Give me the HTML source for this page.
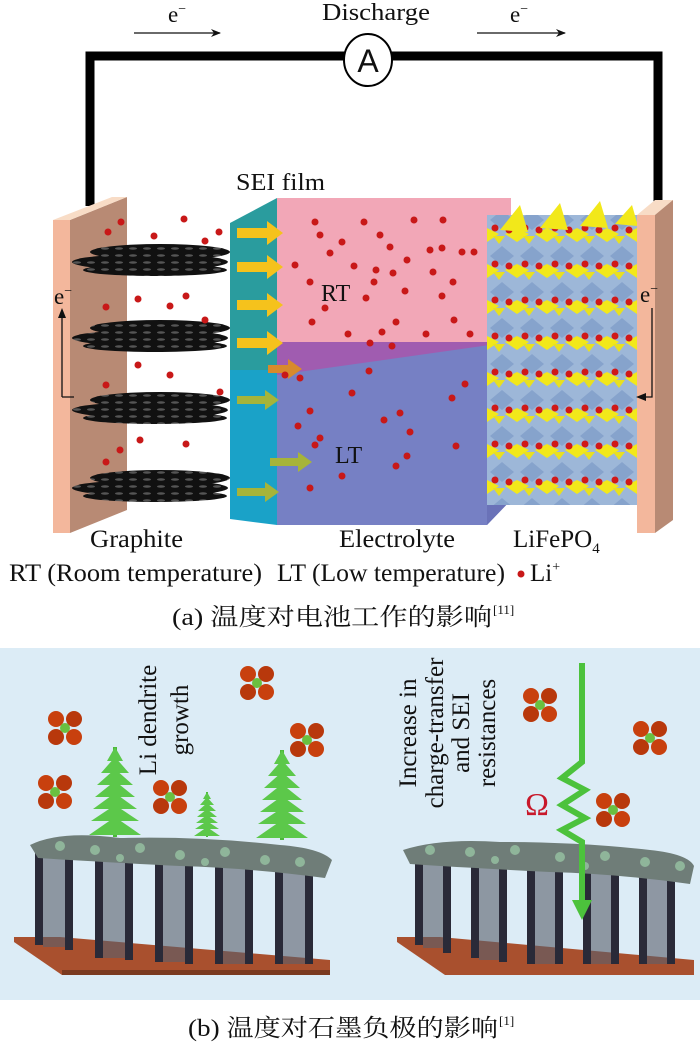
<!DOCTYPE html>
<html><head><meta charset="utf-8"><style>
html,body{margin:0;padding:0;background:#fff;}
svg{display:block;}
text{font-family:"Liberation Serif","Noto Serif CJK SC","Noto Sans CJK SC",serif;fill:#111;}
</style></head><body>
<svg width="700" height="1047" viewBox="0 0 700 1047" xmlns="http://www.w3.org/2000/svg">
<defs>
<marker id="ah" markerWidth="10" markerHeight="8" refX="9" refY="4" orient="auto" markerUnits="userSpaceOnUse"><path d="M0,0 L10,4 L0,8 L3,4 z" fill="#111"/></marker>
<g id="mol">
<circle cx="-9" cy="-9" r="8" fill="#c8400e"/><circle cx="9" cy="-9" r="8" fill="#b8380c"/>
<circle cx="-9" cy="9" r="8" fill="#b8380c"/><circle cx="9" cy="9" r="8" fill="#c8400e"/>
<circle cx="0" cy="0" r="5" fill="#6ac040"/>
</g>
<g id="fern">
<rect x="-2" y="0" width="4" height="90" fill="#4cb83a"/>
<path d="M0,0 L-8,14 L8,14 Z M0,10 L-14,26 L14,26 Z M0,22 L-18,38 L18,38 Z M0,34 L-20,50 L20,50 Z M0,46 L-22,62 L22,62 Z M0,58 L-24,74 L24,74 Z M0,70 L-26,88 L26,88 Z" fill="#5cc84a"/>
</g>
<pattern id="lat" x="487" y="208" width="30" height="36" patternUnits="userSpaceOnUse">
<rect width="30" height="36" fill="#9db7d8"/>
<path d="M15,2 L27,12 L15,22 L3,12 Z" fill="#86a3cc"/>
<path d="M0,20 L12,26 L0,34 Z M30,20 L18,26 L30,34 Z" fill="#f2e81a"/>
<path d="M6,28 L18,28 L12,36 Z" fill="#e8e020"/>
<circle cx="8" cy="20" r="3.5" fill="#d01818"/><circle cx="22" cy="22" r="3.5" fill="#d01818"/>
</pattern>
<pattern id="gr" x="0" y="0" width="14" height="7" patternUnits="userSpaceOnUse">
<rect width="14" height="7" fill="#111"/><ellipse cx="7" cy="3.5" rx="4" ry="1.2" fill="#555"/>
</pattern>
</defs>

<!-- top circuit -->
<text x="322" y="20" font-size="24" textLength="108" lengthAdjust="spacingAndGlyphs">Discharge</text>
<text x="168" y="22" font-size="23">e<tspan font-size="14" dy="-9">−</tspan></text>
<line x1="134" y1="33" x2="220" y2="33" stroke="#111" stroke-width="1.3" marker-end="url(#ah)"/>
<text x="510" y="22" font-size="23">e<tspan font-size="14" dy="-9">−</tspan></text>
<line x1="477" y1="33" x2="565" y2="33" stroke="#111" stroke-width="1.3" marker-end="url(#ah)"/>
<path d="M90,206 L90,56 L658,56 L658,215" fill="none" stroke="#000" stroke-width="9"/>
<ellipse cx="368" cy="60" rx="24" ry="26" fill="#fff" stroke="#000" stroke-width="2"/>
<text x="368" y="72" font-size="32" text-anchor="middle" style="font-family:'Liberation Sans',sans-serif">A</text>

<!-- left plate -->
<polygon points="70,220 127,197 127,510 70,533" fill="#b88a74"/>
<polygon points="53,220 70,220 70,533 53,533" fill="#f3b79c"/>
<polygon points="53,220 70,220 127,197 112,197" fill="#f8dcc6"/>
<text x="54" y="304" font-size="23">e<tspan font-size="14" dy="-9">−</tspan></text>
<path d="M62,397 L62,312 M62,397 L74,397" fill="none" stroke="#111" stroke-width="1.3"/>
<path d="M58,318 L62,308 L66,318 Z" fill="#111"/>

<!-- graphite -->
<g fill="url(#gr)">
<ellipse cx="160" cy="252" rx="70" ry="8"/><ellipse cx="150" cy="262" rx="78" ry="8"/><ellipse cx="155" cy="270" rx="72" ry="6"/>
<ellipse cx="160" cy="328" rx="70" ry="8"/><ellipse cx="150" cy="338" rx="78" ry="8"/><ellipse cx="155" cy="346" rx="72" ry="6"/>
<ellipse cx="160" cy="400" rx="70" ry="8"/><ellipse cx="150" cy="410" rx="78" ry="8"/><ellipse cx="155" cy="418" rx="72" ry="6"/>
<ellipse cx="160" cy="478" rx="70" ry="8"/><ellipse cx="150" cy="488" rx="78" ry="8"/><ellipse cx="155" cy="496" rx="72" ry="6"/>
</g>

<!-- electrolyte box -->
<polygon points="277,198 511,198 511,342 277,342" fill="#f2a7b7"/>
<polygon points="277,342 511,342 487,375 277,375" fill="#a05cb0"/>
<polygon points="277,375 511,342 511,500 487,525 277,525" fill="#7680c4"/>
<polygon points="487,375 511,342 511,500 487,525" fill="#6a72b8"/>
<!-- SEI -->
<polygon points="230,223 277,198 277,370 230,370" fill="#2a9c9e"/>
<polygon points="230,370 277,370 277,525 230,519" fill="#1aa2c8"/>
<g fill="#f5c21c">
<path d="M237,228 h30 v-7 l16,12 l-16,12 v-7 h-30 z"/><path d="M237,262 h30 v-7 l16,12 l-16,12 v-7 h-30 z"/>
<path d="M237,300 h30 v-7 l16,12 l-16,12 v-7 h-30 z"/><path d="M237,338 h30 v-7 l16,12 l-16,12 v-7 h-30 z"/>
</g>
<path d="M268,365 h20 v-6 l14,10 l-14,10 v-6 h-20 z" fill="#d88a2c"/>
<g fill="#a6b43a">
<path d="M237,396 h28 v-6 l14,10 l-14,10 v-6 h-28 z"/><path d="M270,458 h28 v-6 l14,10 l-14,10 v-6 h-28 z"/><path d="M237,488 h28 v-6 l14,10 l-14,10 v-6 h-28 z"/>
</g>
<text x="236" y="190" font-size="24" textLength="89" lengthAdjust="spacingAndGlyphs">SEI film</text>
<text x="321" y="301" font-size="24">RT</text>
<text x="335" y="463" font-size="24">LT</text>

<!-- Li+ dots -->
<g fill="#c81818">
<circle cx="108" cy="232" r="3.5"/><circle cx="121" cy="222" r="3.5"/><circle cx="184" cy="219" r="3.5"/><circle cx="154" cy="236" r="3.5"/><circle cx="205" cy="241" r="3.5"/><circle cx="219" cy="232" r="3.5"/>
<circle cx="138" cy="299" r="3.5"/><circle cx="186" cy="296" r="3.5"/><circle cx="170" cy="306" r="3.5"/><circle cx="106" cy="307" r="3.5"/><circle cx="205" cy="320" r="3.5"/><circle cx="138" cy="365" r="3.5"/><circle cx="170" cy="375" r="3.5"/><circle cx="106" cy="385" r="3.5"/><circle cx="220" cy="392" r="3.5"/><circle cx="140" cy="440" r="3.5"/><circle cx="186" cy="444" r="3.5"/><circle cx="106" cy="462" r="3.5"/><circle cx="120" cy="450" r="3.5"/>
<circle cx="315" cy="222" r="3.5"/><circle cx="364" cy="222" r="3.5"/><circle cx="414" cy="220" r="3.5"/><circle cx="443" cy="220" r="3.5"/><circle cx="320" cy="235" r="3.5"/><circle cx="380" cy="235" r="3.5"/><circle cx="342" cy="242" r="3.5"/><circle cx="390" cy="247" r="3.5"/><circle cx="430" cy="250" r="3.5"/><circle cx="442" cy="248" r="3.5"/><circle cx="462" cy="252" r="3.5"/><circle cx="474" cy="252" r="3.5"/><circle cx="330" cy="253" r="3.5"/><circle cx="407" cy="260" r="3.5"/><circle cx="295" cy="265" r="3.5"/><circle cx="354" cy="266" r="3.5"/><circle cx="393" cy="273" r="3.5"/><circle cx="376" cy="270" r="3.5"/><circle cx="433" cy="272" r="3.5"/><circle cx="374" cy="282" r="3.5"/><circle cx="453" cy="282" r="3.5"/><circle cx="310" cy="282" r="3.5"/><circle cx="325" cy="308" r="3.5"/><circle cx="366" cy="298" r="3.5"/><circle cx="405" cy="291" r="3.5"/><circle cx="442" cy="296" r="3.5"/><circle cx="454" cy="320" r="3.5"/><circle cx="396" cy="322" r="3.5"/><circle cx="382" cy="332" r="3.5"/><circle cx="426" cy="334" r="3.5"/><circle cx="470" cy="334" r="3.5"/><circle cx="312" cy="322" r="3.5"/><circle cx="348" cy="334" r="3.5"/><circle cx="370" cy="343" r="3.5"/><circle cx="392" cy="346" r="3.5"/>
<circle cx="369" cy="371" r="3.5"/><circle cx="300" cy="378" r="3.5"/><circle cx="285" cy="375" r="3.5"/><circle cx="465" cy="384" r="3.5"/><circle cx="352" cy="393" r="3.5"/><circle cx="452" cy="398" r="3.5"/><circle cx="310" cy="411" r="3.5"/><circle cx="400" cy="413" r="3.5"/><circle cx="384" cy="420" r="3.5"/><circle cx="298" cy="426" r="3.5"/><circle cx="320" cy="438" r="3.5"/><circle cx="315" cy="445" r="3.5"/><circle cx="410" cy="432" r="3.5"/><circle cx="456" cy="446" r="3.5"/><circle cx="407" cy="456" r="3.5"/><circle cx="396" cy="466" r="3.5"/><circle cx="342" cy="476" r="3.5"/><circle cx="310" cy="488" r="3.5"/>
</g>

<!-- LiFePO4 lattice -->
<rect x="487" y="215" width="150" height="290" fill="url(#lat)"/>
<g fill="#f2e81a">
<path d="M500,230 L520,205 L528,232 Z"/><path d="M540,228 L560,203 L568,230 Z"/><path d="M580,226 L600,201 L608,228 Z"/><path d="M615,224 L632,205 L638,226 Z"/>
</g>
<!-- right plate -->
<polygon points="655,210 673,200 673,520 655,533" fill="#b88a74"/>
<polygon points="637,215 655,215 655,533 637,533" fill="#f3b79c"/>
<polygon points="637,215 655,215 673,200 655,200" fill="#f8dcc6"/>
<text x="640" y="302" font-size="23">e<tspan font-size="14" dy="-9">−</tspan></text>
<path d="M652,308 L652,397 L640,397" fill="none" stroke="#111" stroke-width="1.3"/>
<path d="M646,393 L636,397 L646,401 Z" fill="#111"/>

<!-- labels a -->
<text x="90" y="547" font-size="25" textLength="93" lengthAdjust="spacingAndGlyphs">Graphite</text>
<text x="339" y="547" font-size="25" textLength="116" lengthAdjust="spacingAndGlyphs">Electrolyte</text>
<text x="513" y="547" font-size="25">LiFePO<tspan font-size="15" dy="6">4</tspan></text>
<text x="9" y="581" font-size="25" textLength="253" lengthAdjust="spacingAndGlyphs">RT (Room temperature)</text>
<text x="277" y="581" font-size="25" textLength="228" lengthAdjust="spacingAndGlyphs">LT (Low temperature)</text>
<circle cx="521" cy="574" r="3.5" fill="#c81818"/>
<text x="530" y="581" font-size="25">Li<tspan font-size="14" dy="-10">+</tspan></text>
<text x="172" y="625" font-size="24" textLength="320" lengthAdjust="spacingAndGlyphs">(a) 温度对电池工作的影响</text>
<text x="493" y="614" font-size="13">[11]</text>

<!-- part b -->
<rect x="0" y="648" width="700" height="352" fill="#dcecf6"/>
<!-- left block -->
<polygon points="14,937 60,937 330,960 330,975 62,975 14,942" fill="#a9502e"/>
<polygon points="62,970 330,970 330,975 62,975" fill="#7a3a20"/>
<g fill="#2a2a38">
<rect x="35" y="850" width="8" height="95"/><rect x="65" y="855" width="8" height="95"/><rect x="95" y="858" width="8" height="100"/><rect x="125" y="860" width="8" height="100"/><rect x="155" y="862" width="8" height="100"/><rect x="185" y="864" width="8" height="100"/><rect x="215" y="866" width="8" height="98"/><rect x="245" y="866" width="8" height="98"/><rect x="275" y="868" width="8" height="96"/><rect x="305" y="870" width="8" height="94"/>
</g>
<g fill="#5a5f6c" opacity="0.6"><rect x="43" y="852" width="22" height="95"/><rect x="103" y="858" width="22" height="100"/><rect x="163" y="862" width="22" height="100"/><rect x="223" y="866" width="22" height="98"/><rect x="283" y="868" width="22" height="96"/></g>
<use href="#fern" x="115" y="747"/>
<use href="#fern" x="207" y="792" transform="translate(207,792) scale(0.5) translate(-207,-792)"/>
<use href="#fern" x="282" y="750"/>
<path d="M30,845 Q60,830 120,838 Q200,836 280,845 Q320,848 332,860 L325,878 Q250,868 180,866 Q100,862 38,858 Z" fill="#6f7d78"/>
<g fill="#8fb59a"><circle cx="60" cy="846" r="5"/><circle cx="95" cy="850" r="5"/><circle cx="140" cy="848" r="5"/><circle cx="180" cy="855" r="5"/><circle cx="225" cy="852" r="5"/><circle cx="265" cy="860" r="5"/><circle cx="300" cy="862" r="5"/><circle cx="120" cy="858" r="4"/><circle cx="205" cy="862" r="4"/></g>
<!-- right block -->
<polygon points="397,937 440,937 694,960 694,975 445,975 397,942" fill="#a9502e"/>
<g fill="#2a2a38">
<rect x="415" y="855" width="8" height="90"/><rect x="443" y="858" width="8" height="95"/><rect x="471" y="860" width="8" height="98"/><rect x="499" y="862" width="8" height="100"/><rect x="527" y="864" width="8" height="100"/><rect x="555" y="866" width="8" height="98"/><rect x="583" y="866" width="8" height="98"/><rect x="611" y="868" width="8" height="96"/><rect x="639" y="868" width="8" height="96"/><rect x="667" y="870" width="8" height="94"/>
</g>
<g fill="#5a5f6c" opacity="0.6"><rect x="423" y="856" width="20" height="92"/><rect x="479" y="860" width="20" height="100"/><rect x="535" y="864" width="20" height="100"/><rect x="591" y="866" width="20" height="98"/><rect x="647" y="868" width="20" height="96"/></g>
<path d="M403,850 Q440,838 500,842 Q580,842 650,850 Q688,854 694,866 L690,884 Q620,874 550,872 Q470,868 410,864 Z" fill="#6f7d78"/>
<g fill="#8fb59a"><circle cx="430" cy="850" r="5"/><circle cx="470" cy="852" r="5"/><circle cx="515" cy="850" r="5"/><circle cx="560" cy="857" r="5"/><circle cx="605" cy="856" r="5"/><circle cx="645" cy="862" r="5"/><circle cx="680" cy="866" r="5"/><circle cx="495" cy="860" r="4"/><circle cx="585" cy="866" r="4"/></g>
<!-- resistance arrow -->
<path d="M582,663 L582,762 L562,778 L585,790 L562,805 L585,818 L562,830 L582,842 L582,905" fill="none" stroke="#4cc23c" stroke-width="6"/>
<path d="M572,900 L592,900 L582,920 Z" fill="#4cc23c"/>
<text x="537" y="815" font-size="32" text-anchor="middle" style="fill:#c8182a">Ω</text>
<!-- molecules -->
<use href="#mol" x="65" y="728"/><use href="#mol" x="55" y="792"/><use href="#mol" x="257" y="683"/><use href="#mol" x="307" y="740"/><use href="#mol" x="170" y="797"/>
<use href="#mol" x="540" y="705"/><use href="#mol" x="650" y="738"/><use href="#mol" x="613" y="810"/>
<!-- rotated texts -->
<text transform="translate(156,720) rotate(-90)" font-size="25" text-anchor="middle">Li dendrite</text>
<text transform="translate(188,720) rotate(-90)" font-size="25" text-anchor="middle">growth</text>
<text transform="translate(416,733) rotate(-90)" font-size="25" text-anchor="middle">Increase in</text>
<text transform="translate(443,733) rotate(-90)" font-size="25" text-anchor="middle">charge-transfer</text>
<text transform="translate(469,733) rotate(-90)" font-size="25" text-anchor="middle">and SEI</text>
<text transform="translate(495,733) rotate(-90)" font-size="25" text-anchor="middle">resistances</text>

<text x="188" y="1036" font-size="24" textLength="310" lengthAdjust="spacingAndGlyphs">(b) 温度对石墨负极的影响</text>
<text x="499" y="1025" font-size="13">[1]</text>
</svg>
</body></html>
